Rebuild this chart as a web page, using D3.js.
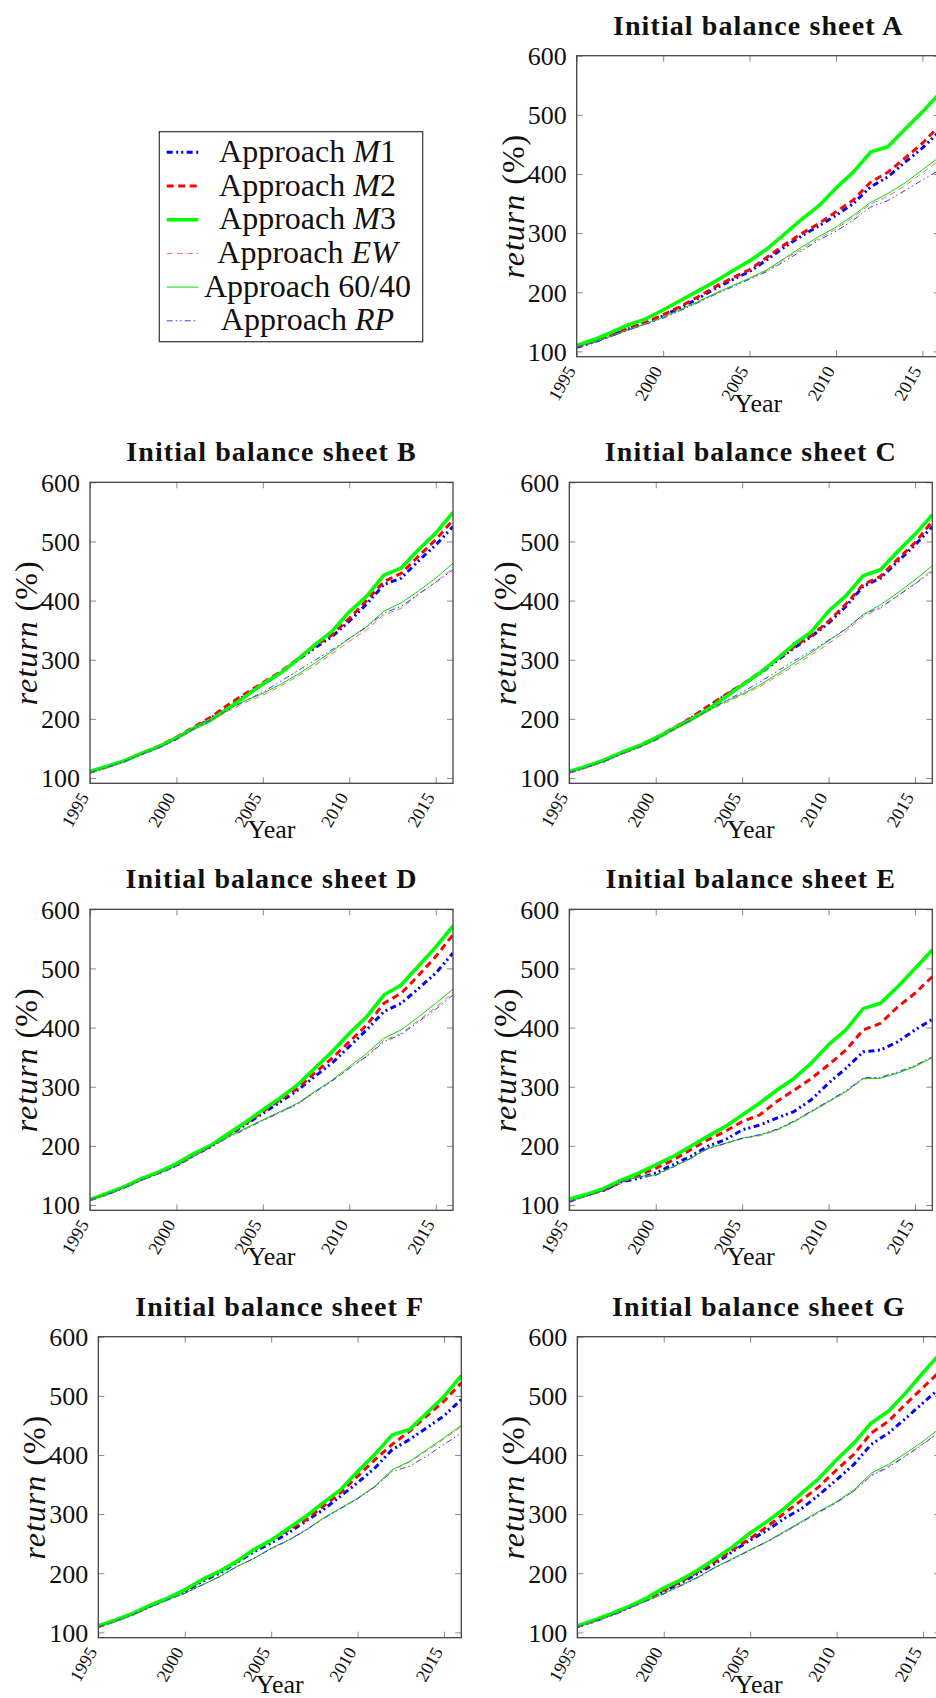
<!DOCTYPE html>
<html><head><meta charset="utf-8">
<script src="https://cdn.jsdelivr.net/npm/d3@7"></script>
<style>body{margin:0;background:#fff} svg{display:block}</style>
</head><body>
<svg id="chart" width="936" height="1698"></svg>
<script>
// ---------- data ----------
const years = [1995,1996,1997,1998,1999,2000,2001,2002,2003,2004,2005,2006,2007,2008,2009,2010,2011,2012,2013,2014,2015,2016];
const xTickYears = [1995,2000,2005,2010,2015];
const yTickValues = [100,200,300,400,500,600];
const seriesKeys = ["M1","M2","M3","EW","6040","RP"];
const panelKeys = ["A","B","C","D","E","F","G"];

const A_M1   = [107,116,127,138,148,160,174,189,206,221,235,255,276,295,312,330,350,378,395,420,444,472];
const A_M2   = [108,117,128,139,149,162,176,192,209,224,238,259,280,299,316,336,356,386,403,427,452,482];
const A_M3   = [110,120,132,145,155,170,186,202,218,236,253,273,298,323,346,376,403,437,446,476,505,536];
const A_EW   = [108,116,126,137,147,157,170,183,197,210,223,236,255,273,291,307,327,349,362,380,402,423];
const A_6040 = [108,116,126,137,147,158,171,184,198,211,224,238,257,276,294,310,330,352,367,385,407,429];
const A_RP   = [107,115,125,136,146,156,169,182,196,209,222,235,252,270,288,303,322,344,355,372,390,407];

const B_M1   = [110,119,129,141,153,167,184,201,221,240,258,277,299,320,339,365,394,427,438,467,494,525];
const B_M2   = [110,119,129,142,154,169,186,203,224,243,261,279,301,323,342,370,400,432,446,475,503,536];
const B_M3   = [111,120,129,142,153,168,184,198,218,238,259,277,300,325,348,381,407,443,455,486,514,549];
const B_EW   = [109,118,128,140,151,164,182,197,213,228,240,255,272,290,310,331,351,376,387,410,431,455];
const B_6040 = [110,118,128,141,152,166,185,199,216,231,243,258,275,294,314,336,356,382,396,416,438,463];
const B_RP   = [109,118,128,140,151,165,183,198,215,231,245,263,281,299,317,336,355,379,390,411,431,452];

const C_M1   = [110,119,129,142,153,167,183,200,220,239,257,276,298,320,339,362,390,424,438,466,494,525];
const C_M2   = [110,119,129,142,154,168,184,201,221,240,258,278,300,322,341,365,394,427,441,470,498,534];
const C_M3   = [111,120,130,143,154,168,183,198,216,236,257,277,301,326,347,382,408,442,452,483,512,545];
const C_EW   = [109,118,128,140,151,163,180,196,212,227,240,254,272,290,308,327,348,373,387,408,429,452];
const C_6040 = [110,118,128,141,152,164,181,197,213,229,242,257,275,294,312,332,352,376,393,413,435,459];
const C_RP   = [109,118,128,140,151,165,182,197,214,230,245,262,280,298,315,333,352,376,389,408,428,449];

const D_M1   = [109,119,130,144,155,167,184,199,218,236,255,274,294,317,340,368,396,427,441,466,492,526];
const D_M2   = [109,119,131,144,155,168,185,200,219,238,258,278,297,323,348,376,404,441,458,488,520,557];
const D_M3   = [109,120,131,145,156,170,187,201,221,240,261,281,303,331,359,390,418,455,472,504,536,572];
const D_EW   = [109,119,130,143,154,166,183,199,215,229,243,256,270,290,309,331,352,378,390,412,434,459];
const D_6040 = [109,119,130,143,154,167,184,200,216,230,244,258,272,292,311,334,356,382,396,418,441,465];
const D_RP   = [108,118,129,142,153,166,182,198,214,228,243,257,271,291,310,331,351,376,388,410,431,455];

const E_M1   = [106,117,125,139,145,154,168,182,199,210,227,235,247,258,278,306,331,359,362,376,396,414];
const E_M2   = [107,117,125,139,150,162,176,193,210,224,241,252,275,294,314,337,362,396,407,435,458,486];
const E_M3   = [110,118,128,142,154,168,182,199,216,232,252,272,294,314,340,371,396,432,441,469,500,531];
const E_EW   = [106,115,125,139,147,150,164,178,195,203,212,217,226,240,257,274,291,313,315,324,335,350];
const E_6040 = [106,115,125,139,148,151,165,179,196,204,213,218,227,241,258,275,292,314,314,323,334,349];
const E_RP   = [106,115,125,139,147,150,164,178,195,204,213,219,228,242,259,276,293,315,316,325,336,351];

const F_M1   = [110,120,131,144,156,169,186,200,218,236,251,268,288,307,330,353,378,409,426,446,466,494];
const F_M2   = [110,120,131,145,157,171,188,203,220,240,256,273,290,313,336,364,392,418,440,466,491,522];
const F_M3   = [111,121,132,146,158,172,189,203,220,240,256,276,296,319,341,372,401,434,443,471,499,534];
const F_EW   = [110,119,130,143,155,166,180,194,211,225,241,255,272,292,309,326,346,374,388,407,427,448];
const F_6040 = [110,119,130,143,155,166,180,194,211,225,242,256,273,293,310,327,347,375,389,409,429,450];
const F_RP   = [109,119,130,143,155,166,180,194,211,225,242,256,273,292,309,326,346,372,381,398,418,437];

const G_M1   = [110,119,130,142,155,169,184,200,217,237,256,273,293,310,333,358,384,418,437,462,488,514];
const G_M2   = [110,120,131,143,156,171,186,203,220,240,259,279,302,324,347,375,401,437,457,486,514,542];
const G_M3   = [111,121,132,144,158,175,189,206,225,245,268,288,310,336,361,392,420,454,474,505,539,572];
const G_EW   = [109,119,129,141,153,165,179,193,210,224,239,253,269,286,303,319,339,366,381,399,419,440];
const G_6040 = [110,119,130,142,154,166,180,194,211,225,240,254,271,288,305,321,341,369,384,403,423,446];
const G_RP   = [109,119,129,141,153,165,179,193,210,224,239,254,270,287,304,320,339,365,379,398,418,440];

const panelData = {
  A: {M1:A_M1, M2:A_M2, M3:A_M3, EW:A_EW, "6040":A_6040, RP:A_RP},
  B: {M1:B_M1, M2:B_M2, M3:B_M3, EW:B_EW, "6040":B_6040, RP:B_RP},
  C: {M1:C_M1, M2:C_M2, M3:C_M3, EW:C_EW, "6040":C_6040, RP:C_RP},
  D: {M1:D_M1, M2:D_M2, M3:D_M3, EW:D_EW, "6040":D_6040, RP:D_RP},
  E: {M1:E_M1, M2:E_M2, M3:E_M3, EW:E_EW, "6040":E_6040, RP:E_RP},
  F: {M1:F_M1, M2:F_M2, M3:F_M3, EW:F_EW, "6040":F_6040, RP:F_RP},
  G: {M1:G_M1, M2:G_M2, M3:G_M3, EW:G_EW, "6040":G_6040, RP:G_RP}
};

// ---------- styles & layout ----------
const styles = {
  M1:   {color:"#0000ff", width:3,   dash:"6,3.5,2,3,2,3.5", label:[["Approach ",false],["M",true],["1",false]]},
  M2:   {color:"#ff0000", width:3,   dash:"7,4.5",           label:[["Approach ",false],["M",true],["2",false]]},
  M3:   {color:"#00ff00", width:3.6, dash:null,              label:[["Approach ",false],["M",true],["3",false]]},
  EW:   {color:"#ff6a6a", width:1,   dash:"6,4",             label:[["Approach ",false],["EW",true]]},
  "6040":{color:"#00e000", width:1,  dash:null,              label:[["Approach 60/40",false]]},
  RP:   {color:"#3b3bff", width:1,   dash:"6,3,1.5,3,1.5,3", label:[["Approach ",false],["RP",true]]}
};
const layout = {
  A:{left:576.7, top:55.7}, B:{left:90, top:482.3}, C:{left:569.3, top:482.3},
  D:{left:90, top:909.3}, E:{left:569.3, top:909.3}, F:{left:98.3, top:1336.7}, G:{left:577.3, top:1336.7}
};
const plotW = 363, plotH = 301;
const FONT = "Liberation Serif, Times New Roman, serif";

const svg = d3.select("#chart");
svg.append("rect").attr("width",936).attr("height",1698).attr("fill","#fff");

function drawPanel(key){
  const box = layout[key];
  const x = d3.scaleLinear().domain([1995, 2016]).range([box.left, box.left + plotW]);
  const y = d3.scaleLinear().domain([91, 600]).range([box.top + plotH, box.top]);
  const g = svg.append("g");

  const cid = "clip" + key;
  g.append("clipPath").attr("id", cid).append("rect")
    .attr("x", box.left).attr("y", box.top).attr("width", plotW).attr("height", plotH);

  const tickCol = "#8a8a8a";
  const left = g.append("g").attr("transform", `translate(${box.left},0)`)
    .call(d3.axisLeft(y).tickValues(yTickValues).tickSizeInner(-6).tickSizeOuter(0).tickPadding(10));
  const right = g.append("g").attr("transform", `translate(${box.left+plotW},0)`)
    .call(d3.axisRight(y).tickValues(yTickValues).tickSizeInner(-6).tickSizeOuter(0).tickFormat(""));
  const top = g.append("g").attr("transform", `translate(0,${box.top})`)
    .call(d3.axisTop(x).tickValues(xTickYears).tickSizeInner(-6).tickSizeOuter(0).tickFormat(""));
  const bottom = g.append("g").attr("transform", `translate(0,${box.top+plotH})`)
    .call(d3.axisBottom(x).tickValues(xTickYears).tickSizeInner(-6).tickSizeOuter(0).tickFormat(d3.format("d")));
  [left,right,top,bottom].forEach(a=>{
    a.select(".domain").remove();
    a.selectAll(".tick line").attr("stroke", tickCol).attr("stroke-width",1);
    a.attr("font-family", FONT);
  });
  left.selectAll("text").attr("font-family", FONT).attr("font-size", 26).attr("fill","#111").attr("dy","0.34em");
  bottom.selectAll("text").attr("font-family", FONT).attr("font-size", 18).attr("fill","#111")
    .attr("x",0).attr("y",0).attr("dy",0)
    .attr("text-anchor","end").attr("transform","translate(-1,14) rotate(-60)");

  const line = d3.line().x((d,i)=>x(years[i])).y(d=>y(d));
  const lg = g.append("g").attr("clip-path", `url(#${cid})`);
  seriesKeys.forEach(s=>{
    const st = styles[s];
    lg.append("path").datum(panelData[key][s])
      .attr("d", line).attr("fill","none")
      .attr("stroke", st.color).attr("stroke-width", st.width)
      .attr("stroke-dasharray", st.dash)
      .attr("stroke-linejoin","round");
  });

  g.append("rect").attr("x", box.left).attr("y", box.top).attr("width", plotW).attr("height", plotH)
    .attr("fill","none").attr("stroke","#444").attr("stroke-width",1.3);

  g.append("text").attr("x", box.left + plotW/2).attr("y", box.top - 21)
    .attr("text-anchor","middle").attr("font-family", FONT).attr("font-weight","bold")
    .attr("font-size", 28).attr("letter-spacing", "1.1px").attr("fill","#111")
    .text("Initial balance sheet " + key);

  g.append("text").attr("x", box.left + plotW/2).attr("y", box.top + plotH + 55)
    .attr("text-anchor","middle").attr("font-family", FONT).attr("font-size", 26).attr("fill","#111")
    .text("Year");

  const yl = g.append("text")
    .attr("transform", `translate(${box.left - 53},${box.top + plotH/2}) rotate(-90)`)
    .attr("text-anchor","middle").attr("font-family", FONT).attr("font-size", 32).attr("fill","#111")
    .attr("letter-spacing","1px");
  yl.append("tspan").attr("font-style","italic").attr("font-family", FONT).text("return");
  yl.append("tspan").attr("font-family", FONT).text(" (%)");
}

panelKeys.forEach(drawPanel);

// ---------- legend ----------
const leg = svg.append("g");
leg.append("rect").attr("x",159.3).attr("y",131.7).attr("width",263.4).attr("height",210)
  .attr("fill","#fff").attr("stroke","#333").attr("stroke-width",1.2);
seriesKeys.forEach((s,i)=>{
  const st = styles[s];
  const cy = 152.3 + i*33.7;
  leg.append("line").attr("x1",166.7).attr("x2",198.3).attr("y1",cy).attr("y2",cy)
    .attr("stroke", st.color).attr("stroke-width", st.width).attr("stroke-dasharray", st.dash);
  const t = leg.append("text").attr("x",307.5).attr("y",cy+9.5).attr("text-anchor","middle")
    .attr("font-family", FONT).attr("font-size",32).attr("fill","#111");
  st.label.forEach(([txt,it])=>{
    const ts = t.append("tspan").text(txt);
    if (it) ts.attr("font-style","italic");
  });
});
</script>
</body></html>
